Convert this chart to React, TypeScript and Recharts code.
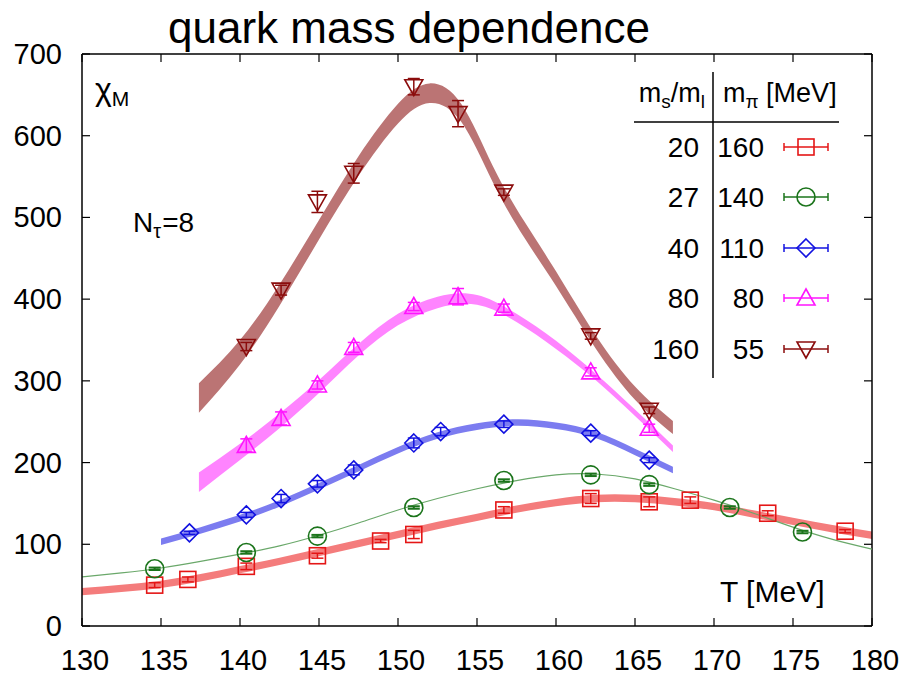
import { ComposedChart, XAxis, YAxis, Scatter, Area, Line, ErrorBar, ReferenceLine } from 'recharts';

const FONT = '"Liberation Sans", Arial, Helvetica, sans-serif';

// plot frame (pixels) used for the mirrored inward ticks
const PLOT_TOP = 54;
const PLOT_RIGHT = 872;

const RED = '#e41616';
const RED_BAND = '#f47c7c';
const GREEN = '#1b741b';
const GREEN_LINE = '#6aa86a';
const BLUE = '#1212e0';
const BLUE_BAND = '#7c7cf0';
const MAGENTA = '#ff14ff';
const MAGENTA_BAND = '#ff84ff';
const BROWN = '#8b0c0c';
const BROWN_BAND = '#bb7474';

const xTicks = [130, 135, 140, 145, 150, 155, 160, 165, 170, 175, 180];
const yTicks = [0, 100, 200, 300, 400, 500, 600, 700];

// legend table
const msOverMl = ['20', '27', '40', '80', '160'];
const mPi = ['160', '140', '110', '80', '55'];

// data points  (T [MeV], chi_M, error)
const redT = [134.6, 136.7, 140.4, 144.9, 148.9, 151.0, 156.7, 162.2, 165.9, 168.5, 173.4, 178.3];
const redChi = [50, 57, 73, 86, 104, 112, 142, 156, 152, 154, 138, 116];
const redErr = [3, 3, 4, 3, 2, 5, 4, 6, 6, 4, 3, 2];

const greenT = [134.6, 140.4, 144.9, 151.0, 156.7, 162.2, 165.9, 171.0, 175.6];
const greenChi = [70, 90, 110, 145, 178, 185, 173, 145, 115];
const greenErr = [1.5, 1.5, 1.5, 1.5, 1.5, 1.5, 1.5, 1.5, 1.5];

const blueT = [136.8, 140.4, 142.6, 144.9, 147.2, 151.0, 152.7, 156.7, 162.2, 165.9];
const blueChi = [114, 136, 156, 174, 191, 224, 238, 247, 236, 203];
const blueErr = [2, 3, 5, 4, 6, 6, 5, 4, 3, 3];

const magT = [140.4, 142.6, 144.9, 147.2, 151.0, 153.8, 156.7, 162.2, 165.9];
const magChi = [221, 254, 295, 341, 391, 403, 389, 311, 242];
const magErr = [8, 8, 5, 6, 5, 10, 5, 5, 5];

const brownT = [140.4, 142.6, 144.9, 147.2, 151.0, 153.8, 156.7, 162.2, 165.9];
const brownChi = [342, 411, 519, 554, 660, 627, 531, 355, 264];
const brownErr = [5, 6, 13, 12, 10, 16, 4, 4, 4];

// fit bands (centre, half width)
const redBandT = [130, 132.5, 135, 137.5, 140, 142.5, 145, 147.5, 150, 152.5, 155, 157.5, 160, 162.5, 165, 167.5, 170, 172.5, 175, 177.5, 180];
const redBandMid = [42, 46, 51, 59, 69, 79, 90, 101, 112, 123, 133, 143, 151, 156, 156, 152, 146, 137, 128, 119, 111];
const redBandHalf = [4.5, 4.5, 4.5, 4.5, 4.5, 4.5, 4.5, 4.5, 4.5, 4.5, 4.5, 4.5, 4.5, 4.5, 4.5, 4.5, 4.5, 4.5, 4.5, 4.5, 4.5];

const greenLineT = [130, 132.5, 135, 137.5, 140, 142.5, 145, 147.5, 150, 152.5, 155, 157.5, 160, 162.5, 165, 167.5, 170, 172.5, 175, 177.5, 180];
const greenLineChi = [60, 65, 71, 79, 88, 98, 111, 126, 142, 156, 168, 178, 185, 186, 180, 168, 154, 138, 121, 106, 94];

const blueBandT = [135, 137.5, 140, 142.5, 145, 147.5, 150, 152.5, 155, 157.5, 160, 162.5, 165, 167.4];
const blueBandMid = [103, 117, 132, 150, 171, 193, 215, 233, 244, 249, 245, 234, 213, 191];
const blueBandHalf = [4, 4, 4, 4, 4, 4, 4, 4, 4, 4, 4, 4, 4, 4];

const magBandT = [137.4, 140, 142.5, 145, 147.5, 150, 152.5, 155, 157.5, 160, 162.5, 165, 167.4];
const magBandMid = [176, 213, 251, 293, 338, 375, 396, 399, 377, 344, 305, 261, 217];
const magBandHalf = [12, 10, 9, 8, 7, 7, 7, 6, 5, 5, 4, 4, 4];

const brownBandT = [137.4, 140, 142.5, 145, 147.5, 150, 152, 154, 156, 158, 160, 162.5, 165, 167.4];
const brownBandMid = [279, 335, 405, 485, 563, 627, 652, 628, 553, 485, 425, 348, 285, 243];
const brownBandHalf = [18, 15, 13, 12, 12, 12, 12, 11, 10, 10, 9, 8, 8, 8];

const points = (t: number[], c: number[], e: number[]) => t.map((T, i) => ({ T, chi: c[i], err: e[i] }));
const band = (t: number[], m: number[], h: number[]) => t.map((T, i) => ({ T, range: [m[i] - h[i], m[i] + h[i]] }));

const redData = points(redT, redChi, redErr);
const greenData = points(greenT, greenChi, greenErr);
const blueData = points(blueT, blueChi, blueErr);
const magData = points(magT, magChi, magErr);
const brownData = points(brownT, brownChi, brownErr);

const redBand = band(redBandT, redBandMid, redBandHalf);
const blueBand = band(blueBandT, blueBandMid, blueBandHalf);
const magBand = band(magBandT, magBandMid, magBandHalf);
const brownBand = band(brownBandT, brownBandMid, brownBandHalf);
const greenCurve = greenLineT.map((T, i) => ({ T, chi: greenLineChi[i] }));

type M = { cx: number; cy: number; color: string };

const Square = ({ cx, cy, color }: M) => (
  <rect x={cx - 8} y={cy - 8} width={16} height={16} fill="none" stroke={color} strokeWidth={1.6} />
);
const Ring = ({ cx, cy, color }: M) => (
  <circle cx={cx} cy={cy} r={9} fill="none" stroke={color} strokeWidth={1.6} />
);
const Diamond = ({ cx, cy, color }: M) => (
  <polygon points={`${cx},${cy - 9} ${cx + 9},${cy} ${cx},${cy + 9} ${cx - 9},${cy}`} fill="none" stroke={color} strokeWidth={1.6} />
);
const TriUp = ({ cx, cy, color }: M) => (
  <polygon points={`${cx},${cy - 9} ${cx + 9},${cy + 7} ${cx - 9},${cy + 7}`} fill="none" stroke={color} strokeWidth={1.6} />
);
const TriDown = ({ cx, cy, color }: M) => (
  <polygon points={`${cx},${cy + 9} ${cx + 9},${cy - 7} ${cx - 9},${cy - 7}`} fill="none" stroke={color} strokeWidth={1.6} />
);

const XTick = ({ x, y, payload }: any) => (
  <g>
    <line x1={x} y1={y} x2={x} y2={y - 8} stroke="#000" strokeWidth={1.2} />
    <line x1={x} y1={PLOT_TOP} x2={x} y2={PLOT_TOP + 8} stroke="#000" strokeWidth={1.2} />
    <text x={x + 3} y={y + 44} textAnchor="middle" fontSize={29} fontFamily={FONT} fill="#000">
      {payload.value}
    </text>
  </g>
);

const YTick = ({ x, y, payload }: any) => (
  <g>
    <line x1={x} y1={y} x2={x + 8} y2={y} stroke="#000" strokeWidth={1.2} />
    <line x1={PLOT_RIGHT} y1={y} x2={PLOT_RIGHT - 8} y2={y} stroke="#000" strokeWidth={1.2} />
    <text x={x - 20} y={y + 10} textAnchor="end" fontSize={29} fontFamily={FONT} fill="#000">
      {payload.value}
    </text>
  </g>
);

const legendMarkers = [
  { color: RED, Shape: Square },
  { color: GREEN, Shape: Ring },
  { color: BLUE, Shape: Diamond },
  { color: MAGENTA, Shape: TriUp },
  { color: BROWN, Shape: TriDown },
];

function Overlay() {
  const rowY = [147, 197, 248, 298, 349];
  return (
    <svg width={905} height={675} style={{ position: 'absolute', left: 0, top: 0, pointerEvents: 'none' }}>
      <text x={168} y={43} fontSize={44} fontFamily={FONT} fill="#000">quark mass dependence</text>

      <text x={95} y={100} fontSize={32} fontFamily={FONT} fill="#000">
        χ<tspan fontSize={21} dy={6}>M</tspan>
      </text>
      <text x={133} y={232} fontSize={28} fontFamily={FONT} fill="#000">
        N<tspan fontSize={20} dy={6}>τ</tspan><tspan dy={-6} dx={1}>=8</tspan>
      </text>
      <text x={720} y={602} fontSize={30} fontFamily={FONT} fill="#000">T [MeV]</text>

      {/* legend table */}
      <line x1={713} y1={72} x2={713} y2={378} stroke="#000" strokeWidth={1.5} />
      <line x1={634} y1={122} x2={839} y2={122} stroke="#000" strokeWidth={1.5} />
      <text x={705} y={102} textAnchor="end" fontSize={27} fontFamily={FONT} fill="#000">
        m<tspan fontSize={19} dy={6}>s</tspan><tspan dy={-6}>/m</tspan><tspan fontSize={19} dy={6}>l</tspan>
      </text>
      <text x={723} y={102} fontSize={27} fontFamily={FONT} fill="#000">
        m<tspan fontSize={19} dy={6}>π</tspan><tspan dy={-6}> [MeV]</tspan>
      </text>
      {rowY.map((cy, i) => {
        const { color, Shape } = legendMarkers[i];
        return (
          <g key={i}>
            <text x={699} y={cy + 10} textAnchor="end" fontSize={28} fontFamily={FONT} fill="#000">{msOverMl[i]}</text>
            <text x={764} y={cy + 10} textAnchor="end" fontSize={28} fontFamily={FONT} fill="#000">{mPi[i]}</text>
            <line x1={784} y1={cy} x2={828} y2={cy} stroke={color} strokeWidth={1.5} />
            <line x1={784} y1={cy - 4} x2={784} y2={cy + 4} stroke={color} strokeWidth={1.5} />
            <line x1={828} y1={cy - 4} x2={828} y2={cy + 4} stroke={color} strokeWidth={1.5} />
            <Shape cx={806} cy={cy} color={color} />
          </g>
        );
      })}
    </svg>
  );
}

export default function App() {
  return (
    <div style={{ position: 'absolute', left: 0, top: 0, width: 905, height: 675, background: '#fff' }}>
      <ComposedChart width={905} height={675} margin={{ top: 54, right: 33, left: 0, bottom: 0 }}>
        <XAxis
          dataKey="T"
          type="number"
          domain={[130, 180]}
          ticks={xTicks}
          allowDataOverflow
          height={49}
          tickSize={0}
          tickMargin={0}
          tickLine={false}
          axisLine={{ stroke: '#000', strokeWidth: 1.5 }}
          tick={<XTick />}
        />
        <YAxis
          type="number"
          domain={[0, 700]}
          ticks={yTicks}
          allowDataOverflow
          width={82}
          tickSize={0}
          tickMargin={0}
          tickLine={false}
          axisLine={{ stroke: '#000', strokeWidth: 1.5 }}
          tick={<YTick />}
        />
        <ReferenceLine y={700} stroke="#000" strokeWidth={1.5} />
        <ReferenceLine x={180} stroke="#000" strokeWidth={1.5} />

        <Area data={redBand} dataKey="range" type="natural" stroke="none" fill={RED_BAND} fillOpacity={1} isAnimationActive={false} />
        <Line data={greenCurve} dataKey="chi" type="natural" stroke={GREEN_LINE} strokeWidth={1.2} dot={false} isAnimationActive={false} />
        <Area data={blueBand} dataKey="range" type="natural" stroke="none" fill={BLUE_BAND} fillOpacity={1} isAnimationActive={false} />
        <Area data={magBand} dataKey="range" type="natural" stroke="none" fill={MAGENTA_BAND} fillOpacity={1} isAnimationActive={false} />
        <Area data={brownBand} dataKey="range" type="natural" stroke="none" fill={BROWN_BAND} fillOpacity={1} isAnimationActive={false} />

        <Scatter data={redData} dataKey="chi" isAnimationActive={false} shape={(p: any) => <Square cx={p.cx} cy={p.cy} color={RED} />}>
          <ErrorBar dataKey="err" direction="y" width={6} stroke={RED} strokeWidth={1.5} />
        </Scatter>
        <Scatter data={greenData} dataKey="chi" isAnimationActive={false} shape={(p: any) => <Ring cx={p.cx} cy={p.cy} color={GREEN} />}>
          <ErrorBar dataKey="err" direction="y" width={6} stroke={GREEN} strokeWidth={2} />
        </Scatter>
        <Scatter data={blueData} dataKey="chi" isAnimationActive={false} shape={(p: any) => <Diamond cx={p.cx} cy={p.cy} color={BLUE} />}>
          <ErrorBar dataKey="err" direction="y" width={6} stroke={BLUE} strokeWidth={1.5} />
        </Scatter>
        <Scatter data={magData} dataKey="chi" isAnimationActive={false} shape={(p: any) => <TriUp cx={p.cx} cy={p.cy} color={MAGENTA} />}>
          <ErrorBar dataKey="err" direction="y" width={6} stroke={MAGENTA} strokeWidth={1.5} />
        </Scatter>
        <Scatter data={brownData} dataKey="chi" isAnimationActive={false} shape={(p: any) => <TriDown cx={p.cx} cy={p.cy} color={BROWN} />}>
          <ErrorBar dataKey="err" direction="y" width={6} stroke={BROWN} strokeWidth={1.5} />
        </Scatter>
      </ComposedChart>
      <Overlay />
    </div>
  );
}
